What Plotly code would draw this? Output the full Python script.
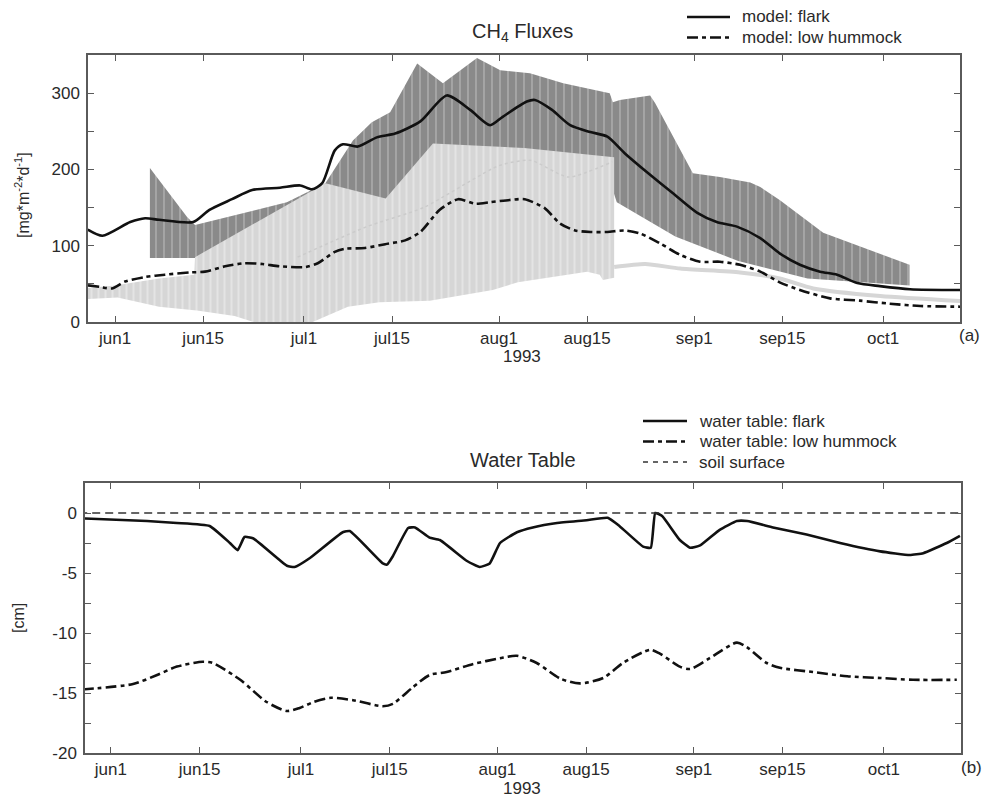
import plotly.graph_objects as go

# ---------------------------------------------------------------- data
tick_dates = ["1993-06-01", "1993-06-15", "1993-07-01", "1993-07-15", "1993-08-01",
              "1993-08-15", "1993-09-01", "1993-09-15", "1993-10-01"]
tick_labels = ["jun1", "jun15", "jul1", "jul15", "aug1", "aug15", "sep1", "sep15", "oct1"]

flux_ticks = [0, 100, 200, 300]
flux_tick_labels = ["0", "100", "200", "300"]
wt_ticks = [-20, -15, -10, -5, 0]
wt_tick_labels = ["-20", "-15", "-10", "-5", "0"]

# modelled CH4 flux, flark [mg m-2 d-1]
model_flark_dates = [
    "1993-05-27 16:00", "1993-05-30 00:00", "1993-06-03 10:00", "1993-06-05 19:00", "1993-06-08 00:00",
    "1993-06-13 10:00", "1993-06-16 00:00", "1993-06-19 14:00", "1993-06-22 19:00", "1993-06-27 05:00",
    "1993-06-30 10:00", "1993-07-02 07:00", "1993-07-03 22:00", "1993-07-05 22:00", "1993-07-07 05:00",
    "1993-07-09 14:00", "1993-07-12 14:00", "1993-07-15 12:00", "1993-07-19 12:00", "1993-07-23 17:00",
    "1993-07-27 10:00", "1993-07-30 14:00", "1993-08-01 14:00", "1993-08-05 10:00", "1993-08-06 17:00",
    "1993-08-09 10:00", "1993-08-12 07:00", "1993-08-15 12:00", "1993-08-18 05:00", "1993-08-21 00:00",
    "1993-08-24 17:00", "1993-08-28 14:00", "1993-09-01 12:00", "1993-09-04 14:00", "1993-09-07 19:00",
    "1993-09-11 12:00", "1993-09-14 14:00", "1993-09-17 19:00", "1993-09-21 00:00", "1993-09-23 17:00",
    "1993-09-26 22:00", "1993-09-30 12:00", "1993-10-05 07:00", "1993-10-14 00:00"]
model_flark = [121, 113, 131, 136, 134, 131, 147, 161, 173, 176,
               179, 174, 182, 225, 233, 230, 242, 247, 263, 297,
               278, 258, 269, 289, 291, 278, 258, 249, 243, 221,
               195, 169, 143, 131, 125, 110, 90, 75, 66, 62,
               51, 47, 43, 42]

# modelled CH4 flux, low hummock
model_hummock_dates = [
    "1993-05-27 17:00", "1993-05-29 14:00", "1993-05-31 12:00", "1993-06-02 14:00", "1993-06-05 19:00",
    "1993-06-08 22:00", "1993-06-12 22:00", "1993-06-15 07:00", "1993-06-18 12:00", "1993-06-21 14:00",
    "1993-06-24 10:00", "1993-06-27 05:00", "1993-07-01 05:00", "1993-07-03 05:00", "1993-07-05 22:00",
    "1993-07-07 12:00", "1993-07-10 17:00", "1993-07-13 22:00", "1993-07-17 02:00", "1993-07-19 12:00",
    "1993-07-22 14:00", "1993-07-25 12:00", "1993-07-28 05:00", "1993-07-30 14:00", "1993-08-02 17:00",
    "1993-08-05 02:00", "1993-08-08 07:00", "1993-08-10 17:00", "1993-08-13 02:00", "1993-08-15 12:00",
    "1993-08-18 05:00", "1993-08-21 00:00", "1993-08-23 10:00", "1993-08-26 14:00", "1993-08-29 19:00",
    "1993-09-01 22:00", "1993-09-05 02:00", "1993-09-08 07:00", "1993-09-11 12:00", "1993-09-14 14:00",
    "1993-09-17 19:00", "1993-09-22 14:00", "1993-09-27 07:00", "1993-10-02 02:00", "1993-10-06 22:00",
    "1993-10-14 00:00"]
model_hummock = [48, 46, 44, 53, 59, 62, 65, 66, 73, 77,
                 76, 73, 72, 77, 92, 96, 97, 102, 107, 118,
                 147, 161, 155, 157, 160, 161, 149, 129, 120, 118,
                 118, 120, 116, 103, 88, 79, 79, 75, 66, 52,
                 42, 31, 28, 24, 21, 20]

# measured range, flark
obs_flark_hi_dates = [
    "1993-06-06 13:00", "1993-06-12 10:00", "1993-06-13 17:00", "1993-06-28 07:00", "1993-07-04 10:00",
    "1993-07-08 19:00", "1993-07-11 19:00", "1993-07-14 17:00", "1993-07-19 00:00", "1993-07-23 02:00",
    "1993-07-28 12:00", "1993-08-01 05:00", "1993-08-05 22:00", "1993-08-11 05:00", "1993-08-18 14:00",
    "1993-08-19 02:00", "1993-08-20 05:00", "1993-08-25 00:00", "1993-08-25 19:00", "1993-08-31 19:00",
    "1993-09-05 02:00", "1993-09-09 22:00", "1993-09-11 12:00", "1993-09-14 14:00", "1993-09-21 12:00",
    "1993-10-05 05:00"]
obs_flark_hi = [202, 138, 127, 157, 182, 238, 262, 275, 339, 313,
                346, 330, 326, 313, 300, 288, 291, 297, 287, 195,
                190, 183, 177, 160, 117, 75]
obs_flark_lo_dates = [
    "1993-06-06 13:00", "1993-06-13 17:00", "1993-06-20 00:00", "1993-07-03 00:00", "1993-07-04 10:00",
    "1993-07-14 00:00", "1993-07-21 00:00", "1993-08-18 00:00", "1993-08-19 17:00", "1993-08-29 00:00",
    "1993-09-08 00:00", "1993-09-19 00:00", "1993-10-05 05:00"]
obs_flark_lo = [84, 84, 100, 160, 180, 160, 200, 200, 157, 112, 80, 57, 48]

# measured range, low hummock
obs_hummock_hi_dates = [
    "1993-05-27 00:00", "1993-06-01 00:00", "1993-06-08 00:00", "1993-06-13 14:00", "1993-06-13 17:00",
    "1993-07-03 14:00", "1993-07-04 10:00", "1993-07-14 00:00", "1993-07-21 12:00", "1993-08-05 00:00",
    "1993-08-19 07:00"]
obs_hummock_hi = [44, 48, 57, 62, 85, 178, 182, 162, 234, 228, 216]
obs_hummock_lo_dates = [
    "1993-05-27 00:00", "1993-06-01 10:00", "1993-06-08 00:00", "1993-06-14 00:00", "1993-06-20 00:00",
    "1993-06-23 00:00", "1993-06-27 00:00", "1993-07-01 00:00", "1993-07-02 12:00", "1993-07-08 00:00",
    "1993-07-13 00:00", "1993-07-21 00:00", "1993-07-31 00:00", "1993-08-04 00:00", "1993-08-15 00:00",
    "1993-08-17 00:00", "1993-08-17 12:00", "1993-08-19 07:00"]
obs_hummock_lo = [30, 32, 20, 15, 8, 0, -5, -5, 0, 20, 26, 28, 42, 52, 66, 62, 55, 58]

# measured low hummock flux after the range ends
obs_hummock_late_dates = [
    "1993-08-19 07:00", "1993-08-24 05:00", "1993-08-29 19:00", "1993-09-08 07:00", "1993-09-14 14:00",
    "1993-09-19 22:00", "1993-09-30 14:00", "1993-10-14 00:00"]
obs_hummock_late = [72, 76, 70, 65, 57, 44, 34, 27]

# mean of measured low hummock flux
obs_hummock_mean_dates = [
    "1993-06-30 00:00", "1993-07-11 00:00", "1993-07-20 00:00", "1993-08-01 00:00", "1993-08-06 00:00",
    "1993-08-12 00:00", "1993-08-19 00:00"]
obs_hummock_mean = [85, 125, 150, 205, 212, 190, 210]

# water table [cm], flark
wt_flark_dates = [
    "1993-05-27 12:00", "1993-06-06 17:00", "1993-06-11 10:00", "1993-06-16 14:00", "1993-06-19 19:00",
    "1993-06-21 00:00", "1993-06-22 02:00", "1993-06-23 10:00", "1993-06-28 19:00", "1993-06-30 00:00",
    "1993-07-02 10:00", "1993-07-07 14:00", "1993-07-08 17:00", "1993-07-13 22:00", "1993-07-14 14:00",
    "1993-07-15 12:00", "1993-07-17 22:00", "1993-07-19 00:00", "1993-07-21 07:00", "1993-07-22 22:00",
    "1993-07-27 05:00", "1993-07-29 05:00", "1993-07-30 19:00", "1993-08-01 10:00", "1993-08-04 02:00",
    "1993-08-06 14:00", "1993-08-10 10:00", "1993-08-15 02:00", "1993-08-18 10:00", "1993-08-20 07:00",
    "1993-08-24 00:00", "1993-08-25 05:00", "1993-08-25 22:00", "1993-08-27 00:00", "1993-08-29 19:00",
    "1993-08-31 10:00", "1993-09-02 00:00", "1993-09-05 02:00", "1993-09-07 19:00", "1993-09-09 10:00",
    "1993-09-13 12:00", "1993-09-18 19:00", "1993-09-24 02:00", "1993-09-30 10:00", "1993-10-05 02:00",
    "1993-10-07 05:00", "1993-10-10 22:00", "1993-10-13 00:00"]
wt_flark = [-0.45, -0.67, -0.83, -1.08, -2.5, -3.1, -2.0, -2.1, -4.4, -4.5,
            -3.75, -1.6, -1.5, -4.2, -4.3, -3.6, -1.25, -1.2, -2.05, -2.25,
            -4.0, -4.5, -4.2, -2.5, -1.6, -1.2, -0.83, -0.6, -0.4, -1.1,
            -2.8, -2.9, 0.0, -0.25, -2.25, -2.9, -2.7, -1.4, -0.67, -0.67,
            -1.2, -1.8, -2.5, -3.2, -3.5, -3.35, -2.5, -1.9]

# water table [cm], low hummock
wt_hummock_dates = [
    "1993-05-27 12:00", "1993-06-04 12:00", "1993-06-08 07:00", "1993-06-11 10:00", "1993-06-15 12:00",
    "1993-06-17 02:00", "1993-06-21 10:00", "1993-06-25 14:00", "1993-06-28 19:00", "1993-06-30 19:00",
    "1993-07-03 00:00", "1993-07-05 17:00", "1993-07-09 05:00", "1993-07-13 22:00", "1993-07-15 12:00",
    "1993-07-18 17:00", "1993-07-21 07:00", "1993-07-24 00:00", "1993-07-28 02:00", "1993-08-01 10:00",
    "1993-08-04 02:00", "1993-08-07 05:00", "1993-08-10 22:00", "1993-08-14 00:00", "1993-08-17 17:00",
    "1993-08-20 19:00", "1993-08-25 02:00", "1993-08-26 14:00", "1993-08-29 19:00", "1993-08-31 10:00",
    "1993-09-03 12:00", "1993-09-07 19:00", "1993-09-09 10:00", "1993-09-12 12:00", "1993-09-14 14:00",
    "1993-09-19 19:00", "1993-09-25 05:00", "1993-09-30 10:00", "1993-10-05 14:00", "1993-10-12 12:00"]
wt_hummock = [-14.7, -14.25, -13.5, -12.8, -12.4, -12.5, -13.9, -15.75, -16.5, -16.25,
              -15.75, -15.4, -15.6, -16.1, -15.9, -14.5, -13.5, -13.25, -12.6, -12.1,
              -11.9, -12.5, -13.8, -14.2, -13.75, -12.5, -11.4, -11.7, -12.8, -13.0,
              -12.1, -10.8, -11.2, -12.5, -12.9, -13.25, -13.6, -13.75, -13.9, -13.9]

soil_dates = ["1993-05-27 00:00", "1993-10-14 00:00"]
soil_surface = [0, 0]

flux_legend = ["model: flark", "model: low hummock"]
wt_legend = ["water table: flark", "water table: low hummock", "soil surface"]

# ---------------------------------------------------------------- styling
FONT = "Liberation Sans, Arial, Helvetica, sans-serif"
TXT = "#2a2a2a"
AX = "#5a5a5a"
INK = "#111111"
DASHDOT = "11px,4px,4px,4px"
W, H = 986, 798
YH = 788  # vertical reference height used for placing items in paper units


def px(x):
    return x / W


def py(y):
    return 1 - y / YH


def band(x_hi, y_hi, x_lo, y_lo):
    return list(x_hi) + list(reversed(x_lo)), list(y_hi) + list(reversed(y_lo))


fig = go.Figure()

# measured flark range (dark hatched band)
bx, by = band(obs_flark_hi_dates, obs_flark_hi, obs_flark_lo_dates, obs_flark_lo)
fig.add_trace(go.Scatter(
    x=bx, y=by, mode="lines", fill="toself", line=dict(width=0),
    fillcolor="#8a8a8a",
    fillpattern=dict(shape="|", bgcolor="#8a8a8a", fgcolor="#c6c6c6",
                     size=8, solidity=0.22),
    showlegend=False, hoverinfo="skip", xaxis="x", yaxis="y"))

# measured low hummock range (light hatched band)
bx, by = band(obs_hummock_hi_dates, obs_hummock_hi, obs_hummock_lo_dates, obs_hummock_lo)
fig.add_trace(go.Scatter(
    x=bx, y=by, mode="lines", fill="toself", line=dict(width=0),
    fillcolor="#d6d6d6",
    fillpattern=dict(shape="|", bgcolor="#d6d6d6", fgcolor="#f1f1f1",
                     size=7, solidity=0.3),
    showlegend=False, hoverinfo="skip", xaxis="x", yaxis="y"))

fig.add_trace(go.Scatter(
    x=obs_hummock_late_dates, y=obs_hummock_late, mode="lines",
    line=dict(color="#d6d6d6", width=4, shape="spline", smoothing=0.6),
    showlegend=False, hoverinfo="skip", xaxis="x", yaxis="y"))

fig.add_trace(go.Scatter(
    x=obs_hummock_mean_dates, y=obs_hummock_mean, mode="lines",
    line=dict(color="#cbcbcb", width=1.5, dash="dot", shape="spline", smoothing=0.6),
    showlegend=False, hoverinfo="skip", xaxis="x", yaxis="y"))

# model curves
fig.add_trace(go.Scatter(
    x=model_flark_dates, y=model_flark, mode="lines", name=flux_legend[0],
    line=dict(color=INK, width=2.6, shape="spline", smoothing=0.7),
    showlegend=False, xaxis="x", yaxis="y"))
fig.add_trace(go.Scatter(
    x=model_hummock_dates, y=model_hummock, mode="lines", name=flux_legend[1],
    line=dict(color=INK, width=2.6, dash=DASHDOT, shape="spline", smoothing=0.7),
    showlegend=False, xaxis="x", yaxis="y"))

# water table
fig.add_trace(go.Scatter(
    x=wt_flark_dates, y=wt_flark, mode="lines", name=wt_legend[0],
    line=dict(color=INK, width=2.6, shape="spline", smoothing=0.4),
    showlegend=False, xaxis="x2", yaxis="y2"))
fig.add_trace(go.Scatter(
    x=wt_hummock_dates, y=wt_hummock, mode="lines", name=wt_legend[1],
    line=dict(color=INK, width=2.6, dash=DASHDOT, shape="spline", smoothing=0.7),
    showlegend=False, xaxis="x2", yaxis="y2"))
fig.add_trace(go.Scatter(
    x=soil_dates, y=soil_surface, mode="lines", name=wt_legend[2],
    line=dict(color="#333333", width=1.3, dash="8px,5px"),
    showlegend=False, xaxis="x2", yaxis="y2"))

axis_common = dict(
    showline=True, linecolor=AX, linewidth=1.5, mirror="allticks",
    ticks="inside", ticklen=6, tickwidth=1.3, tickcolor=AX,
    showgrid=False, zeroline=False,
    tickfont=dict(family=FONT, size=17, color=TXT),
)
minor_common = dict(ticks="inside", ticklen=6, tickwidth=1.3, tickcolor=AX, showgrid=False)

fig.update_layout(
    width=W, height=H, autosize=False,
    margin=dict(l=0, r=0, t=0, b=0),
    paper_bgcolor="white", plot_bgcolor="white",
    font=dict(family=FONT, color=TXT),
    showlegend=False,
    xaxis=dict(domain=[px(88), px(960)], anchor="y", type="date",
               range=["1993-05-27 17:00", "1993-10-13 05:30"],
               tickvals=tick_dates, ticktext=tick_labels, **axis_common),
    yaxis=dict(domain=[py(322), py(55)], anchor="x", range=[0, 350],
               tickvals=flux_ticks, ticktext=flux_tick_labels, ticklabelstandoff=3,
               minor=dict(tick0=0, dtick=50, **minor_common), **axis_common),
    xaxis2=dict(domain=[px(85), px(961)], anchor="y2", type="date",
                range=["1993-05-27 22:00", "1993-10-13 04:00"],
                tickvals=tick_dates, ticktext=tick_labels, **axis_common),
    yaxis2=dict(domain=[py(753), py(483)], anchor="x2", range=[-20, 2.5],
                tickvals=wt_ticks, ticktext=wt_tick_labels, ticklabelstandoff=3,
                minor=dict(tick0=0, dtick=2.5, **minor_common), **axis_common),
)

# legend keys: line samples and labels
flux_styles = [dict(color=INK, width=2.6), dict(color=INK, width=2.6, dash=DASHDOT)]
wt_styles = [dict(color=INK, width=2.6), dict(color=INK, width=2.6, dash=DASHDOT),
             dict(color="#333333", width=1.3, dash="5px,5px")]
for i, (label, st) in enumerate(zip(flux_legend, flux_styles)):
    yy = py(17 + 20.5 * i)
    fig.add_shape(type="line", xref="paper", yref="paper",
                  x0=px(687), x1=px(730), y0=yy, y1=yy, line=st)
    fig.add_annotation(text=label, x=px(740), y=yy, xref="paper", yref="paper",
                       xanchor="left", yanchor="middle", showarrow=False,
                       font=dict(family=FONT, size=17, color=TXT))
for i, (label, st) in enumerate(zip(wt_legend, wt_styles)):
    yy = py(421 + 20.5 * i)
    fig.add_shape(type="line", xref="paper", yref="paper",
                  x0=px(643), x1=px(687), y0=yy, y1=yy, line=st)
    fig.add_annotation(text=label, x=px(697), y=yy, xref="paper", yref="paper",
                       xanchor="left", yanchor="middle", showarrow=False,
                       font=dict(family=FONT, size=17, color=TXT))

ann = [
    dict(text="CH<sub>4</sub> Fluxes", x=522, y=32, size=20),
    dict(text="Water Table", x=523, y=460, size=20),
    dict(text="[mg*m<sup>-2</sup>*d<sup>-1</sup>]", x=22, y=195, size=16, angle=-90),
    dict(text="[cm]", x=18, y=618, size=16, angle=-90),
    dict(text="1993", x=522, y=356, size=17),
    dict(text="1993", x=522, y=788, size=17),
    dict(text="(a)", x=969, y=336, size=17),
    dict(text="(b)", x=971, y=767, size=17),
]
for a in ann:
    fig.add_annotation(
        text=a["text"], x=px(a["x"]), y=py(a["y"]), xref="paper", yref="paper",
        xanchor="center", yanchor="middle", showarrow=False,
        textangle=a.get("angle", 0),
        font=dict(family=FONT, size=a["size"], color=TXT))

fig.write_html("out.html")
